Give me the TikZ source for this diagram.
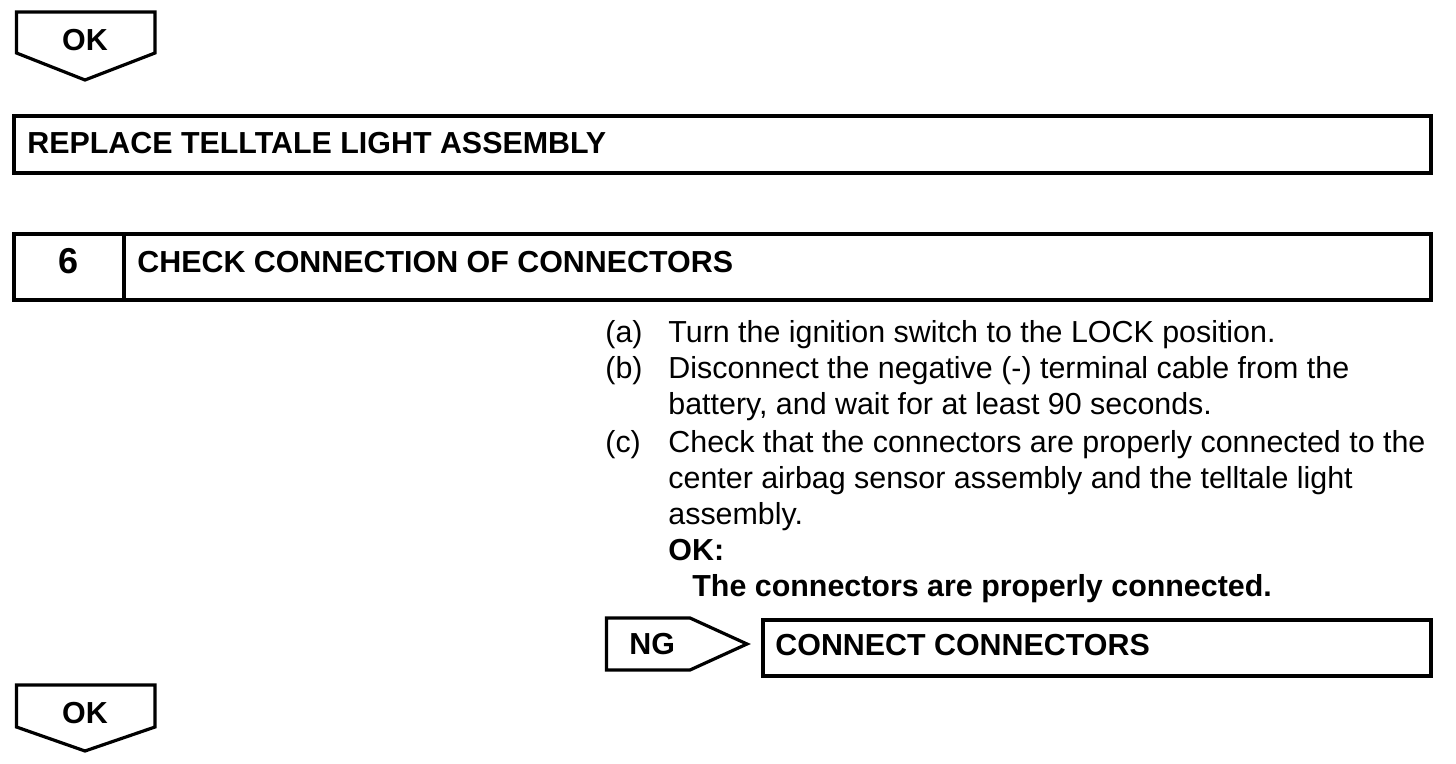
\documentclass[tikz,border=0pt]{standalone}
\usepackage{fontspec}
\setmainfont{Liberation Sans}
\usetikzlibrary{positioning}

\begin{document}
\begin{tikzpicture}[x=0.5pt, y=-0.5pt,
    every node/.style={font=\fontsize{15.2}{18}\selectfont, inner sep=0pt, anchor=base west},
    bold/.style={font=\bfseries\fontsize{15.2}{18}\selectfont},
    frame/.style={draw, line width=2pt},
    tag/.style={draw, line width=1.6pt, line join=miter}]
    \useasboundingbox (0,0) rectangle (1456,764);

    % OK arrow on top
    \draw[tag] (16.5,12) -- (155,12) -- (155,53) -- (85,80) -- (16.5,53) -- cycle;
    \node[bold, anchor=base] (oktop) at (85,51) {OK};

    \draw[frame] (14,116.5) rectangle (1430.5,173.5);
    \node[bold] (replace) at (27,154) {REPLACE TELLTALE LIGHT ASSEMBLY};

    % step 6
    \draw[frame] (14,234) rectangle (1430.5,300);
    \draw[frame] (124,234) -- (124,300);
    \node[anchor=base, font=\bfseries\fontsize{18}{20}\selectfont] (num) at (69,274) {6};
    \node[bold] (check) at (137,273) {CHECK CONNECTION OF CONNECTORS};

    \foreach \lab/\y in {a/343, b/379, c/452}
        \node (item\lab) at (605,\y) {(\lab)};

    \foreach \y/\txt in {343/{Turn the ignition switch to the LOCK position.},
                         379/{Disconnect the negative (-) terminal cable from the},
                         415/{battery, and wait for at least 90 seconds.},
                         452/{Check that the connectors are properly connected to the},
                         488/{center airbag sensor assembly and the telltale light},
                         524/{assembly.}}
        \node (line\y) at (668,\y) {\txt};

    \node[bold] (okcond) at (668,560) {OK:};
    \node[bold] (okdesc) at (692,596) {The connectors are properly connected.};

    % NG branch
    \draw[tag] (606.5,618) -- (690,618) -- (747,644) -- (690,670) -- (606.5,670) -- cycle;
    \node[bold] (ng) at (629,654) {NG};
    \draw[frame] (762.5,620) rectangle (1430.5,676);
    \node[bold] (connect) at (775,655) {CONNECT CONNECTORS};

    % OK arrow at the bottom
    \draw[tag] (16.5,685) -- (155,685) -- (155,727) -- (85,751) -- (16.5,727) -- cycle;
    \node[bold, anchor=base] (okbot) at (85,723) {OK};
\end{tikzpicture}
\end{document}
